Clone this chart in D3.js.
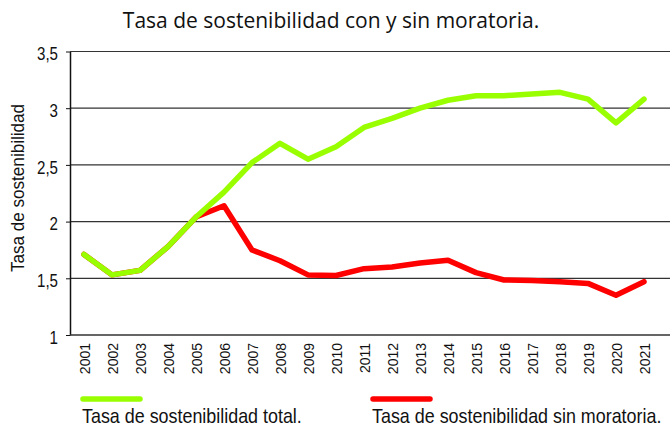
<!DOCTYPE html>
<html>
<head>
<meta charset="utf-8">
<script src="https://cdn.jsdelivr.net/npm/d3@7"></script>
<style>
  body { margin: 0; background: #fff; }
  text { fill: #111; }
</style>
</head>
<body>
<div id="chart"></div>
<script>
var svgWidth = 670;
var svgHeight = 427;

// data
var years = [2001, 2002, 2003, 2004, 2005, 2006, 2007, 2008, 2009, 2010, 2011,
             2012, 2013, 2014, 2015, 2016, 2017, 2018, 2019, 2020, 2021];
var tasaTotal = [1.71, 1.53, 1.57, 1.78, 2.04, 2.26, 2.52, 2.69, 2.55, 2.66, 2.83,
                 2.91, 3.00, 3.07, 3.11, 3.11, 3.125, 3.14, 3.08, 2.87, 3.08];
var tasaSinMoratoria = [1.71, 1.53, 1.57, 1.78, 2.04, 2.14, 1.75, 1.655, 1.53, 1.525, 1.585,
                        1.60, 1.635, 1.66, 1.55, 1.485, 1.48, 1.47, 1.455, 1.35, 1.47];
var yTicks = [1, 1.5, 2, 2.5, 3, 3.5];
var seriesNames = ["Tasa de sostenibilidad total.", "Tasa de sostenibilidad sin moratoria."];
var titleText = "Tasa de sostenibilidad con y sin moratoria.";
var yTitle = "Tasa de sostenibilidad";

// no narrow face installed: squeeze Liberation Sans horizontally instead
var sans = "'Liberation Sans', Arial, sans-serif";
var squeeze = 0.9;

var svg = d3.select("#chart")
    .append("svg")
    .attr("width", svgWidth)
    .attr("height", svgHeight);

var plotLeft = 70, plotRight = 670;

var x = d3.scaleLinear().domain([2001, 2021]).range([84, 644]);
var y = d3.scaleLinear().domain([1, 3.5]).range([335, 51.5]);

// gridlines
svg.append("g")
    .selectAll("line")
    .data(yTicks.slice(1))
    .enter()
    .append("line")
    .attr("x1", plotLeft)
    .attr("x2", plotRight)
    .attr("y1", d => y(d))
    .attr("y2", d => y(d))
    .attr("stroke", "#333")
    .attr("stroke-width", 1.2);

// y axis
var yAxis = svg.append("g")
    .attr("transform", `translate(${plotLeft},0)`)
    .call(d3.axisLeft(y)
        .tickValues(yTicks)
        .tickSize(4)
        .tickSizeOuter(0)
        .tickPadding(8)
        .tickFormat(d => String(d).replace(".", ",")));
yAxis.select(".domain").attr("stroke", "#111").attr("stroke-width", 1.5);
yAxis.selectAll(".tick line").attr("stroke", "#111");
yAxis.selectAll("text")
    .attr("x", -12 / 0.84)
    .attr("dy", "0.45em")
    .attr("transform", "scale(0.84,1)")
    .style("font-family", sans)
    .style("font-size", "18px")
    .attr("fill", "#111");

// bottom axis line
svg.append("line")
    .attr("x1", plotLeft)
    .attr("x2", plotRight)
    .attr("y1", y(1))
    .attr("y2", y(1))
    .attr("stroke", "#333")
    .attr("stroke-width", 1.5);

// x axis labels (rotated)
var xAxis = svg.append("g")
    .attr("transform", `translate(0,${y(1)})`)
    .call(d3.axisBottom(x).tickValues(years).tickSize(0).tickFormat(d3.format("d")));
xAxis.select(".domain").remove();
xAxis.selectAll("text")
    .attr("transform", "rotate(-90)")
    .attr("x", -8)
    .attr("y", 0)
    .attr("dy", "0.36em")
    .attr("text-anchor", "end")
    .style("font-family", sans)
    .style("font-size", "14px")
    .attr("fill", "#111");

// lines
var line = d3.line()
    .x((d, i) => x(years[i]))
    .y(d => y(d));

svg.append("path")
    .datum(tasaSinMoratoria)
    .attr("d", line)
    .attr("fill", "none")
    .attr("stroke", "#ff0000")
    .attr("stroke-width", 5.5)
    .attr("stroke-linejoin", "round")
    .attr("stroke-linecap", "round");

svg.append("path")
    .datum(tasaTotal)
    .attr("d", line)
    .attr("fill", "none")
    .attr("stroke", "#99ff00")
    .attr("stroke-width", 5.5)
    .attr("stroke-linejoin", "round")
    .attr("stroke-linecap", "round");

// title
svg.append("text")
    .attr("x", 331)
    .attr("y", 28)
    .attr("text-anchor", "middle")
    .style("font-family", "'Open Sans', sans-serif")
    .style("font-size", "21px")
    .text(titleText);

// y title
svg.append("text")
    .attr("transform", `translate(24,188) rotate(-90) scale(${squeeze},1)`)
    .attr("text-anchor", "middle")
    .style("font-family", sans)
    .style("font-size", "19px")
    .text(yTitle);

// legend
var legendItems = [
    { name: seriesNames[0], color: "#99ff00", x: 83 },
    { name: seriesNames[1], color: "#ff0000", x: 373 }
];
var legend = svg.append("g")
    .selectAll("g")
    .data(legendItems)
    .enter()
    .append("g")
    .attr("transform", d => `translate(${d.x},0)`);
legend.append("line")
    .attr("x1", 0)
    .attr("x2", 57)
    .attr("y1", 399)
    .attr("y2", 399)
    .attr("stroke", d => d.color)
    .attr("stroke-width", 5.5)
    .attr("stroke-linecap", "round");
legend.append("text")
    .attr("transform", "translate(-1,423) scale(0.895,1)")
    .style("font-family", sans)
    .style("font-size", "20px")
    .text(d => d.name);
</script>
</body>
</html>
